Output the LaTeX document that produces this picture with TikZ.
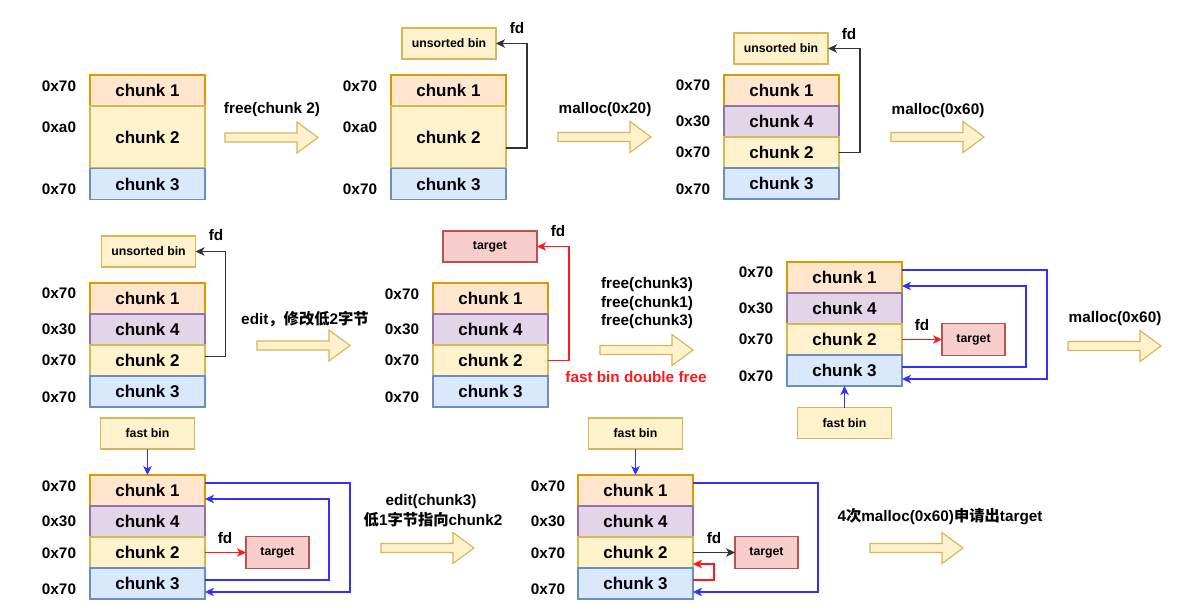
\documentclass[tikz,border=0pt]{standalone}
\usepackage{fontspec}
\setmainfont{Liberation Sans}
\newfontfamily\cjk{Noto Sans CJK SC}
\usetikzlibrary{arrows.meta}
\definecolor{oF}{HTML}{FFE6CC}\definecolor{oD}{HTML}{D79B00}
\definecolor{yF}{HTML}{FFF2CC}\definecolor{yD}{HTML}{D6B656}
\definecolor{pF}{HTML}{E1D5E7}\definecolor{pD}{HTML}{9673A6}
\definecolor{bF}{HTML}{DAE8FC}\definecolor{bD}{HTML}{6C8EBF}
\definecolor{rF}{HTML}{F8CECC}\definecolor{rD}{HTML}{B85450}
\definecolor{lnB}{HTML}{3030FF}\definecolor{lnR}{HTML}{FF1A1A}\definecolor{lnK}{HTML}{333333}
\tikzset{
  every node/.style={inner sep=0pt, outer sep=0pt},
  chk/.style={draw, line width=1.1pt, minimum width=115pt, minimum height=31pt,
    font=\bfseries\fontsize{17}{20}\selectfont},
  co/.style={chk, fill=oF, draw=oD},
  cy/.style={chk, fill=yF, draw=yD},
  cp/.style={chk, fill=pF, draw=pD},
  cb/.style={chk, fill=bF, draw=bD},
  lab/.style={font=\bfseries\fontsize{15.3}{18}\selectfont},
  redlab/.style={lab, text=lnR},
  sbox/.style={draw=yD, fill=yF, line width=1.1pt, minimum width=94pt, minimum height=31pt,
    font=\bfseries\fontsize{12.3}{14}\selectfont},
  tbox/.style={sbox, fill=rF, draw=rD},
  stbox/.style={tbox, minimum width=63pt, minimum height=32pt},
  tip/.style={-{Stealth[length=9pt,width=8.5pt,inset=2.5pt]}},
  kl/.style={draw=lnK, line width=1.2pt, tip},
  rl/.style={draw=lnR, line width=1.2pt, tip},
  bl/.style={draw=lnB, line width=1.2pt, tip},
  bigarr/.pic={\draw[draw=yD, fill=yF, line width=1.1pt]
    (0,-4.5) -- (72,-4.5) -- (72,-15.5) -- (93,0) -- (72,15.5) -- (72,4.5) -- (0,4.5) -- cycle;}
}
\begin{document}
\begin{tikzpicture}[x=1pt,y=-1pt]
\useasboundingbox (0,0) rectangle (1201,614);
\fill[white] (0,0) rectangle (1201,614);

% ---------- Panel 1
\node[co] (p1c1) at (147.5,90.5) {chunk 1};
\node[cy, minimum height=62pt] (p1c2) at (147.5,137) {chunk 2};
\node[cb] (p1c3) at (147.5,184) {chunk 3};
\node[lab] (p1l1) at (59,86) {0x70};
\node[lab] (p1l2) at (59,127) {0xa0};
\node[lab] (p1l3) at (59,189) {0x70};
\pic at (225,137.5) {bigarr};
\node[lab] (t1) at (272,110) {free(chunk 2)};

% ---------- Panel 2
\node[co] (p2c1) at (448.5,90.5) {chunk 1};
\node[cy, minimum height=62pt] (p2c2) at (448.5,137) {chunk 2};
\node[cb] (p2c3) at (448.5,184) {chunk 3};
\node[lab] (p2l1) at (360,86) {0x70};
\node[lab] (p2l2) at (360,127) {0xa0};
\node[lab] (p2l3) at (360,189) {0x70};
\node[sbox] (p2ub) at (449,43.5) {unsorted bin};
\node[lab] (p2fd) at (517,28) {fd};
\draw[kl] ([yshift=-11pt]p2c2.east) -| ([xshift=31pt]p2ub.east) -- (p2ub.east);
\pic at (558,137) {bigarr};
\node[lab] (t2) at (605,110) {malloc(0x20)};

% ---------- Panel 3
\node[co] (p3c1) at (781.5,90.5) {chunk 1};
\node[cp] (p3c4) at (781.5,121.5) {chunk 4};
\node[cy] (p3c2) at (781.5,152.5) {chunk 2};
\node[cb] (p3c3) at (781.5,183.5) {chunk 3};
\node[lab] (p3l1) at (693,85) {0x70};
\node[lab] (p3l2) at (693,121) {0x30};
\node[lab] (p3l3) at (693,152) {0x70};
\node[lab] (p3l4) at (693,189) {0x70};
\node[sbox] (p3ub) at (781,48.5) {unsorted bin};
\node[lab] (p3fd) at (849,34) {fd};
\draw[kl] (p3c2.east) -| ([xshift=32pt]p3ub.east) -- (p3ub.east);
\pic at (891,137) {bigarr};
\node[lab] (t3) at (938,111) {malloc(0x60)};

% ---------- Panel 4
\node[co] (p4c1) at (147.5,298.5) {chunk 1};
\node[cp] (p4c4) at (147.5,329.5) {chunk 4};
\node[cy] (p4c2) at (147.5,360.5) {chunk 2};
\node[cb] (p4c3) at (147.5,391.5) {chunk 3};
\node[lab] (p4l1) at (59,293) {0x70};
\node[lab] (p4l2) at (59,329) {0x30};
\node[lab] (p4l3) at (59,360) {0x70};
\node[lab] (p4l4) at (59,397) {0x70};
\node[sbox] (p4ub) at (148.5,251.5) {unsorted bin};
\node[lab] (p4fd) at (216,235) {fd};
\draw[kl] ([yshift=4pt]p4c2.east) -| ([xshift=30pt]p4ub.east) -- (p4ub.east);
\pic at (257,345.5) {bigarr};
\node[lab] (t4) at (305,319) {edit{\cjk\bfseries ，修改低}2{\cjk\bfseries 字节}};

% ---------- Panel 5
\node[co] (p5c1) at (490.5,298.5) {chunk 1};
\node[cp] (p5c4) at (490.5,329.5) {chunk 4};
\node[cy] (p5c2) at (490.5,360.5) {chunk 2};
\node[cb] (p5c3) at (490.5,391.5) {chunk 3};
\node[lab] (p5l1) at (402,294) {0x70};
\node[lab] (p5l2) at (402,329) {0x30};
\node[lab] (p5l3) at (402,360) {0x70};
\node[lab] (p5l4) at (402,397) {0x70};
\node[tbox] (p5tg) at (490,246.5) {target};
\node[lab] (p5fd) at (558,231) {fd};
\draw[rl] (p5c2.east) -| ([xshift=32pt]p5tg.east) -- (p5tg.east);
\node[redlab] (p5df) at (636,377) {fast bin double free};
\node[lab] (t5a) at (647,285) {free(chunk3)};
\node[lab] (t5b) at (647,304) {free(chunk1)};
\node[lab] (t5c) at (647,322) {free(chunk3)};
\pic at (600,350) {bigarr};

% ---------- Panel 6
\node[co] (p6c1) at (844.5,277.5) {chunk 1};
\node[cp] (p6c4) at (844.5,308.5) {chunk 4};
\node[cy] (p6c2) at (844.5,339.5) {chunk 2};
\node[cb] (p6c3) at (844.5,370.5) {chunk 3};
\node[lab] (p6l1) at (756,272) {0x70};
\node[lab] (p6l2) at (756,308) {0x30};
\node[lab] (p6l3) at (756,339) {0x70};
\node[lab] (p6l4) at (756,376) {0x70};
\node[stbox] (p6tg) at (973.5,339.5) {target};
\node[lab] (p6fd) at (922,325) {fd};
\node[sbox] (p6fb) at (844.5,423) {fast bin};
\draw[rl] (p6c2.east) -- (p6tg.west);
\draw[bl] ([yshift=7.5pt]p6c1.east) -- ++(145,0) |- ([yshift=-8.5pt]p6c3.east);
\draw[bl] ([yshift=3.5pt]p6c3.east) -- ++(124,0) |- ([yshift=-8.5pt]p6c1.east);
\draw[bl] (p6fb.north) -- (p6c3.south);
\pic at (1068,346) {bigarr};
\node[lab] (t6) at (1115,319) {malloc(0x60)};

% ---------- Panel 7
\node[co] (p7c1) at (147.5,490.5) {chunk 1};
\node[cp] (p7c4) at (147.5,521.5) {chunk 4};
\node[cy] (p7c2) at (147.5,552.5) {chunk 2};
\node[cb] (p7c3) at (147.5,583.5) {chunk 3};
\node[lab] (p7l1) at (59,486) {0x70};
\node[lab] (p7l2) at (59,521) {0x30};
\node[lab] (p7l3) at (59,553) {0x70};
\node[lab] (p7l4) at (59,589) {0x70};
\node[sbox] (p7fb) at (147.5,433.5) {fast bin};
\node[stbox] (p7tg) at (277.5,552.5) {target};
\node[lab] (p7fd) at (225,538) {fd};
\draw[bl] (p7fb.south) -- (p7c1.north);
\draw[rl] (p7c2.east) -- (p7tg.west);
\draw[bl] ([yshift=7.5pt]p7c1.east) -- ++(145,0) |- ([yshift=-8.5pt]p7c3.east);
\draw[bl] ([yshift=3.5pt]p7c3.east) -- ++(124,0) |- ([yshift=-8.5pt]p7c1.east);
\pic at (381,548) {bigarr};
\node[lab] (t7a) at (431,502) {edit(chunk3)};
\node[lab] (t7b) at (433,520) {{\cjk\bfseries 低}1{\cjk\bfseries 字节指向}chunk2};

% ---------- Panel 8
\node[co] (p8c1) at (635.5,490.5) {chunk 1};
\node[cp] (p8c4) at (635.5,521.5) {chunk 4};
\node[cy] (p8c2) at (635.5,552.5) {chunk 2};
\node[cb] (p8c3) at (635.5,583.5) {chunk 3};
\node[lab] (p8l1) at (548,486) {0x70};
\node[lab] (p8l2) at (548,521) {0x30};
\node[lab] (p8l3) at (548,553) {0x70};
\node[lab] (p8l4) at (548,589) {0x70};
\node[sbox] (p8fb) at (635.5,433.5) {fast bin};
\node[stbox] (p8tg) at (766.5,552.5) {target};
\node[lab] (p8fd) at (714,538) {fd};
\draw[bl] (p8fb.south) -- (p8c1.north);
\draw[kl] (p8c2.east) -- (p8tg.west);
\draw[rl] ([yshift=3.5pt]p8c3.east) -- ++(21,0) |- ([yshift=-11.5pt]p8c2.east);
\draw[bl] ([yshift=7.5pt]p8c1.east) -- ++(125,0) |- ([yshift=-8.5pt]p8c3.east);
\pic at (870,548) {bigarr};
\node[lab] (t8) at (940,517) {4{\cjk\bfseries 次}malloc(0x60){\cjk\bfseries 申请出}target};
\end{tikzpicture}
\end{document}
